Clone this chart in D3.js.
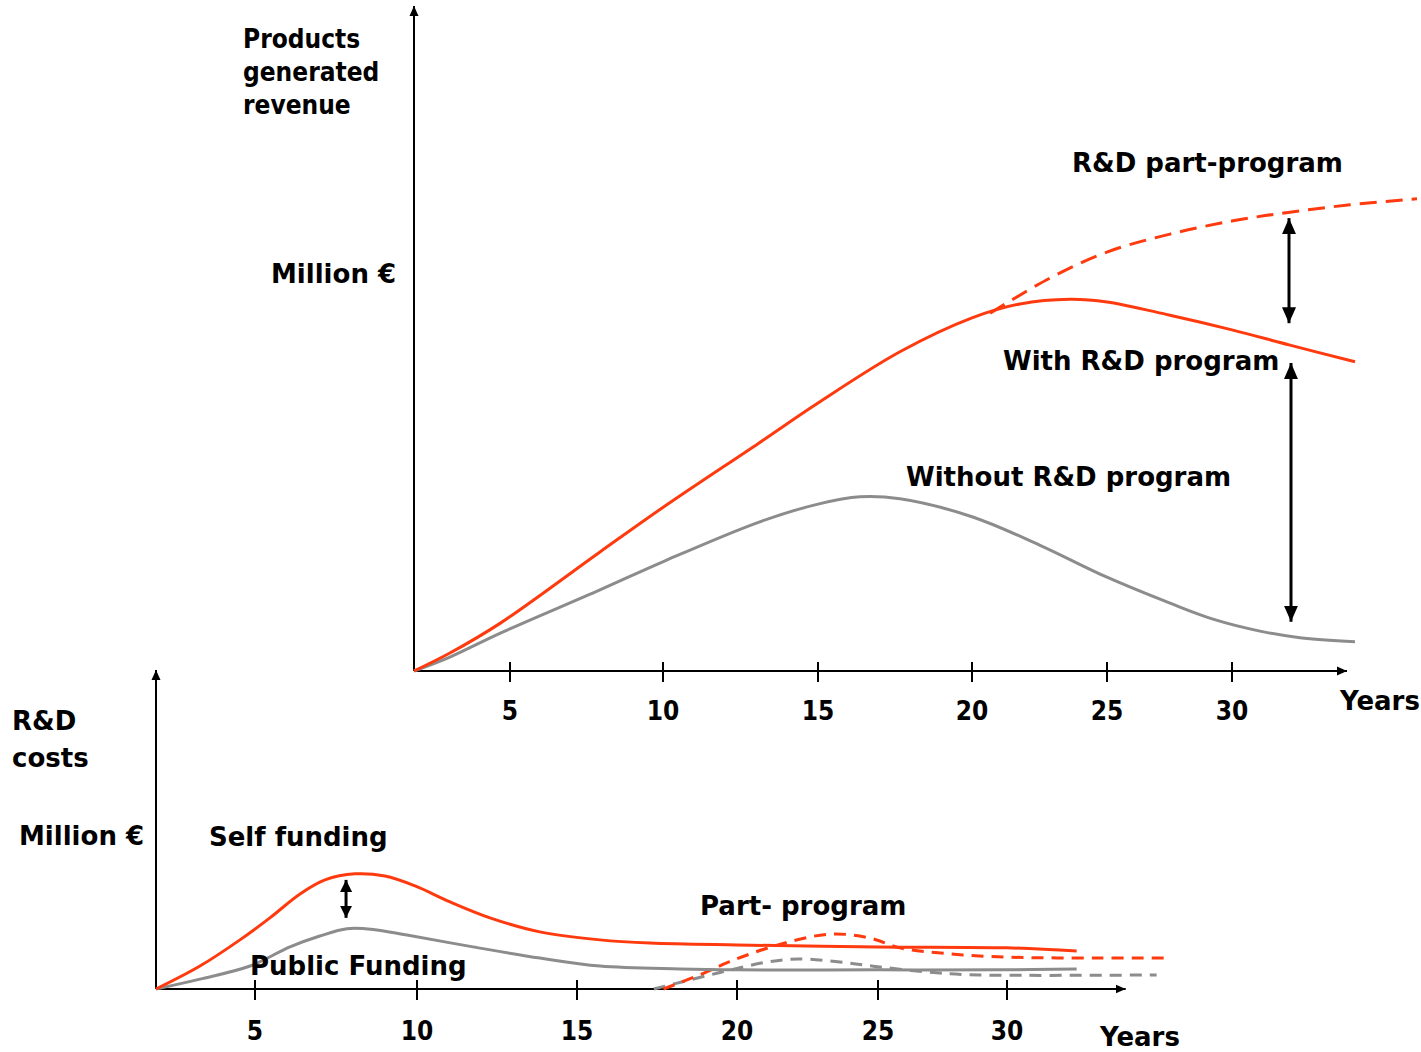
<!DOCTYPE html>
<html>
<head>
<meta charset="utf-8">
<script src="https://cdn.jsdelivr.net/npm/d3@7"></script>
<style>
  html, body { margin: 0; padding: 0; background: #ffffff; }
  svg { display: block; }
  text { font-family: "DejaVu Sans", sans-serif; font-weight: bold; font-size: 26px; fill: #000; }
  text.narrow { font-family: "DejaVu Sans Condensed", "DejaVu Sans", sans-serif; }
</style>
</head>
<body>
<svg id="chart" width="1421" height="1052"></svg>
<script>
// ---------------- DATA ----------------
// Year ticks (both panels)
const tickYears = [5, 10, 15, 20, 25, 30];
const tickLabels = ["5", "10", "15", "20", "25", "30"];
const scaleYears = [0, 5, 10, 15, 20, 25, 30];

// Top panel: products generated revenue (relative units 0-100)
const withRD = [[0,0],[1.87,2.7],[4.5,7.2],[7.94,17.9],[10.03,24.7],[13.1,34.3],[15,40.3],[17.66,48.0],[20,53.1],[21.78,55.2],[23.63,55.9],[25,55.5],[27.52,53.5],[30,51.3],[32.32,49.0],[34.92,46.5]];
const withoutRD = [[0,0],[1.87,2.1],[4.5,5.7],[7.94,12.2],[10.03,16.5],[13.1,22.4],[15,25.1],[16.36,26.2],[17.66,25.9],[20,23.2],[22.52,18.9],[25,14.1],[27.52,10.2],[29.24,7.8],[31.12,6.0],[32.72,5.0],[34.92,4.4]];
const partProgram = [[20.67,53.8],[22.89,59.1],[25,63.0],[27.52,65.7],[30.04,67.7],[32.32,69.0],[34.72,70.1],[37.4,71.0]];

// Bottom panel: R&D costs (relative units 0-100)
const selfFunding = [[0,0],[2.22,7.2],[4.24,15.4],[5.46,22.3],[6.39,29.8],[7.16,34.2],[8.09,36.1],[9.01,35.4],[9.94,32.3],[11.03,27.3],[12.28,22.3],[13.84,17.9],[15.72,15.4],[17.28,14.4],[20,13.8],[25,13.2],[30,12.9],[32.7,11.9]];
const publicFunding = [[0,0],[2.22,3.1],[4.75,7.2],[6.08,13.2],[7.0,16.6],[7.84,18.9],[8.7,18.6],[9.69,16.9],[11.75,13.2],[13.84,9.7],[15.72,7.2],[18.22,6.3],[20,6.0],[25,6.0],[30,6.0],[32.7,6.3]];
const partSelf = [[17.7,0],[18.97,5.0],[19.75,8.5],[21.45,13.8],[23.3,17.2],[24.7,16.0],[25.85,12.9],[27.8,11.0],[30,10.0],[33.6,9.7],[36.3,9.7]];
const partPublic = [[17.4,0],[19.4,5.0],[21.1,8.5],[22.2,9.4],[23.9,8.2],[25.07,6.9],[27.4,5.0],[28.9,4.4],[35.8,4.4]];

// Double-headed annotation arrows: [year, fromValue, toValue]
const topArrows = [[32.28, 68.1, 52.3], [32.36, 46.3, 7.4]];
const bottomArrows = [[7.81, 34.2, 22.3]];

const axisMaxYear = 34.6;
const axisMaxValue = 100;

// ---------------- LAYOUT ----------------
const RED = "#ff3a0e";
const GRAY = "#8c8c8c";
const svg = d3.select("#chart");

const xTop = d3.scaleLinear().domain(scaleYears).range([414, 510, 663, 818, 972, 1107, 1232]);
const yTop = d3.scaleLinear().domain([0, 100]).range([671, 6]);
const xBot = d3.scaleLinear().domain(scaleYears).range([156, 255, 417, 577, 737, 878, 1007]);
const yBot = d3.scaleLinear().domain([0, 100]).range([989, 670]);

const defs = svg.append("defs");
defs.append("marker").attr("id", "axisArrow")
  .attr("viewBox", "0 0 10 10").attr("refX", 10).attr("refY", 5)
  .attr("markerWidth", 10).attr("markerHeight", 10)
  .attr("markerUnits", "userSpaceOnUse").attr("orient", "auto")
  .append("path").attr("d", "M0,0.5 L10,5 L0,9.5 Z").attr("fill", "#000");
defs.append("marker").attr("id", "dblArrow")
  .attr("viewBox", "0 0 16 14").attr("refX", 16).attr("refY", 7)
  .attr("markerWidth", 16).attr("markerHeight", 14)
  .attr("markerUnits", "userSpaceOnUse").attr("orient", "auto-start-reverse")
  .append("path").attr("d", "M0,0 L16,7 L0,14 Z").attr("fill", "#000");
defs.append("marker").attr("id", "smallArrow")
  .attr("viewBox", "0 0 12 12").attr("refX", 12).attr("refY", 6)
  .attr("markerWidth", 12).attr("markerHeight", 12)
  .attr("markerUnits", "userSpaceOnUse").attr("orient", "auto-start-reverse")
  .append("path").attr("d", "M0,0 L12,6 L0,12 Z").attr("fill", "#000");

function drawPanel(x, y, series, arrows, arrowMarker, labelBaseline) {
  const g = svg.append("g");
  // axes
  g.append("line").attr("x1", x(0)).attr("y1", y(0)).attr("x2", x(axisMaxYear)).attr("y2", y(0))
    .attr("stroke", "#000").attr("stroke-width", 2).attr("marker-end", "url(#axisArrow)");
  g.append("line").attr("x1", x(0)).attr("y1", y(0)).attr("x2", x(0)).attr("y2", y(axisMaxValue))
    .attr("stroke", "#000").attr("stroke-width", 2).attr("marker-end", "url(#axisArrow)");
  // ticks
  const t = g.selectAll("g.tick").data(tickYears).join("g").attr("class", "tick")
    .attr("transform", d => `translate(${x(d)},${y(0)})`);
  t.append("line").attr("y1", -9).attr("y2", 11).attr("stroke", "#000").attr("stroke-width", 2);
  t.append("text").attr("class", "narrow").attr("text-anchor", "middle").attr("y", labelBaseline)
    .text((d, i) => tickLabels[i]);
  // series
  series.forEach(s => {
    const line = d3.line().x(d => x(d[0])).y(d => y(d[1])).curve(d3.curveCatmullRom.alpha(0.5));
    g.append("path").attr("d", line(s.data)).attr("fill", "none")
      .attr("stroke", s.color).attr("stroke-width", 3)
      .attr("stroke-dasharray", s.dash || null).attr("stroke-linecap", "butt");
  });
  // arrows
  arrows.forEach(a => {
    g.append("line").attr("x1", x(a[0])).attr("x2", x(a[0])).attr("y1", y(a[1])).attr("y2", y(a[2]))
      .attr("stroke", "#000").attr("stroke-width", 3)
      .attr("marker-start", `url(#${arrowMarker})`).attr("marker-end", `url(#${arrowMarker})`);
  });
  return g;
}

drawPanel(xTop, yTop, [
  { data: withoutRD, color: GRAY },
  { data: partProgram, color: RED, dash: "17 9" },
  { data: withRD, color: RED }
], topArrows, "dblArrow", 49);

drawPanel(xBot, yBot, [
  { data: partPublic, color: GRAY, dash: "12 8" },
  { data: partSelf, color: RED, dash: "12 8" },
  { data: publicFunding, color: GRAY },
  { data: selfFunding, color: RED }
], bottomArrows, "smallArrow", 51);

// ---------------- TEXT LABELS ----------------
const labels = [
  ["Products", 243, 48, "narrow"], ["generated", 243, 81, "narrow"], ["revenue", 243, 114, "narrow"],
  ["Million €", 271, 283, ""],
  ["R&D part-program", 1072, 172, ""],
  ["With R&D program", 1003, 370, ""],
  ["Without R&D program", 906, 486, ""],
  ["Years", 1340, 710, ""],
  ["R&D", 12, 730, ""], ["costs", 12, 767, ""],
  ["Million €", 19, 845, ""],
  ["Self funding", 209, 846, ""],
  ["Part- program", 700, 915, ""],
  ["Public Funding", 250, 975, ""],
  ["Years", 1100, 1046, ""]
];
svg.append("g").selectAll("text").data(labels).join("text")
  .attr("class", d => d[3])
  .attr("x", d => d[1]).attr("y", d => d[2]).text(d => d[0]);
</script>
</body>
</html>
